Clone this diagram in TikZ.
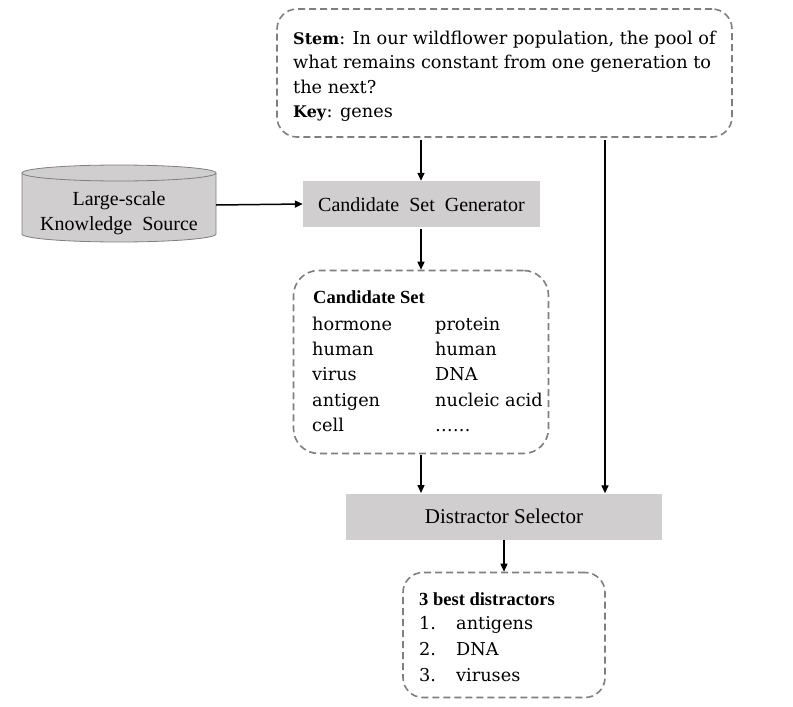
\documentclass[tikz,border=0pt]{standalone}
\usepackage{fontspec}
\setmainfont{Liberation Serif}
\newfontfamily\camb{DejaVu Serif}
\usetikzlibrary{arrows.meta}
\definecolor{boxgray}{HTML}{D0CECE}
\definecolor{linegray}{HTML}{7F7F7F}
\tikzset{
  dbox/.style={draw=linegray, line width=1.6pt, dash pattern=on 7pt off 4pt, rounded corners=20pt, fill=white, inner sep=0pt},
  gbox/.style={fill=boxgray, draw=none, inner sep=0pt},
  conn/.style={line width=1.5pt, -{Triangle[length=8pt,width=7pt]}},
  body/.style={font=\camb\fontsize{17.7}{24}\selectfont, inner sep=0pt, anchor=base west},
  bhead/.style={font=\fontsize{18.5}{20}\selectfont\bfseries, inner sep=0pt, anchor=base west},
  mtxt/.style={font=\fontsize{20}{24}\selectfont, inner sep=0pt, anchor=base},
}
\begin{document}
\begin{tikzpicture}[x=1pt,y=-1pt]
\useasboundingbox (0,0) rectangle (793,707);
% stem box
\node[dbox, minimum width=455pt, minimum height=128pt] (stem) at (504.5,73) {};
\node[body] (s1) at (293,44) {\textbf{\fontsize{16}{20}\selectfont Stem}: In our wildflower population, the pool of};
\node[body] (s2) at (293,68.5) {what remains constant from one generation to};
\node[body] (s3) at (293,93) {the next?};
\node[body] (s4) at (293,117.5) {\textbf{\fontsize{16}{20}\selectfont Key}: genes};
% knowledge source cylinder
\fill[boxgray] (22,173) -- (22,234) arc[start angle=180, end angle=0, x radius=97, y radius=8] -- (216,173) -- cycle;
\draw[linegray, line width=0.8pt] (22,173) -- (22,234) arc[start angle=180, end angle=0, x radius=97, y radius=8] -- (216,173);
\draw[linegray, line width=0.8pt, fill=boxgray] (119,173) ellipse[x radius=97, y radius=8];
\node[inner sep=0pt, minimum width=194pt, minimum height=76pt] (ks) at (119,205) {};
\node[mtxt] (ks1) at (119,205.5) {Large-scale};
\node[mtxt] (ks2) at (119,230.5) {Knowledge\ \ Source};
% candidate set generator
\node[gbox, minimum width=237pt, minimum height=46pt] (gen) at (421.5,204) {};
\node[mtxt] (gent) at (421.5,211) {Candidate\ \ Set\ \ Generator};
% candidate set box
\node[dbox, minimum width=255pt, minimum height=183pt, rounded corners=25pt] (cand) at (421,362) {};
\node[bhead] (ch) at (313,303) {Candidate Set};
\node[body] (c1) at (312,330) {hormone};
\node[body] (c2) at (312,355) {human};
\node[body] (c3) at (312,380.5) {virus};
\node[body] (c4) at (312,406) {antigen};
\node[body] (c5) at (312,431.5) {cell};
\node[body] (d1) at (435,330) {protein};
\node[body] (d2) at (435,355) {human};
\node[body] (d3) at (435,380.5) {DNA};
\node[body] (d4) at (435,406) {nucleic acid};
\node[body] (d5) at (435,431.5) {\textellipsis\textellipsis};
% distractor selector
\node[gbox, minimum width=316pt, minimum height=46pt] (sel) at (504,516.5) {};
\node[mtxt, font=\fontsize{21}{24}\selectfont] (selt) at (504,523.5) {Distractor\ Selector};
% result box
\node[dbox, minimum width=202pt, minimum height=125pt] (res) at (504,635) {};
\node[bhead] (rh) at (419,605) {3 best distractors};
\node[body] (r1) at (419,629) {1.};
\node[body] (r2) at (419,655) {2.};
\node[body] (r3) at (419,681) {3.};
\node[body] (r1t) at (456,629) {antigens};
\node[body] (r2t) at (456,655) {DNA};
\node[body] (r3t) at (456,681) {viruses};
% connectors
\coordinate (a1) at (421,140);
\coordinate (a2) at (605,140);
\draw[conn] (a1) -- (a1 |- gen.north);
\draw[conn] (a2) -- (a2 |- sel.north);
\draw[conn] (ks.east) -- (gen.west);
\draw[conn] (421,229) -- (cand.north);
\draw[conn] (421,455) -- (421,493);
\draw[conn] (sel.south) -- (res.north);
\end{tikzpicture}
\end{document}
